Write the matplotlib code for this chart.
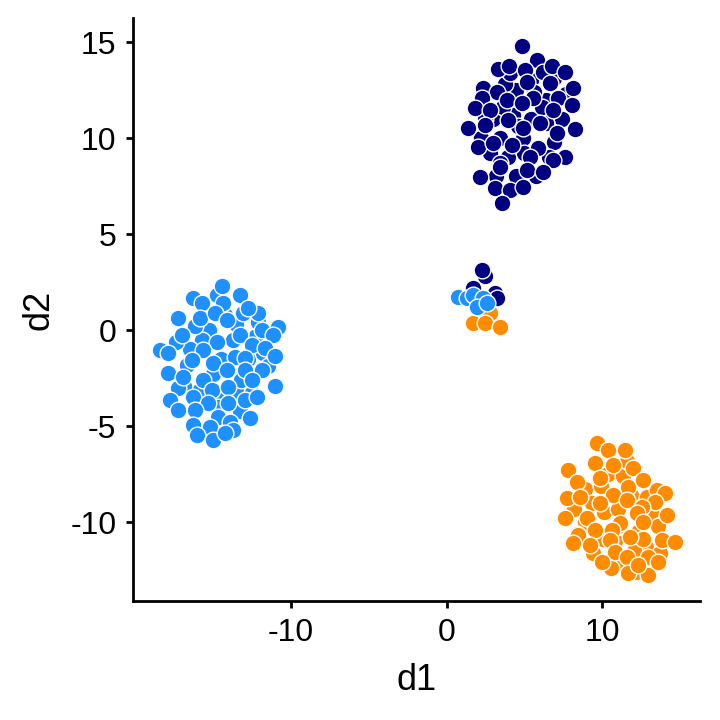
import matplotlib
matplotlib.use("Agg")
import matplotlib.pyplot as plt

plt.rcParams["font.family"] = ["Liberation Sans", "DejaVu Sans"]
plt.rcParams["axes.unicode_minus"] = False

# cluster coordinates (d1, d2)
navy_d1 = [2.95, 4.45, 5.43, 6.42, 3.95, 4.94, 5.92, 3.46, 7.40, 6.42,
           2.48, 4.45, 3.76, 5.73, 6.91, 3.17, 2.77, 5.43, 4.25, 6.12,
           3.60, 5.00, 6.60, 7.70, 2.20, 4.60, 5.60, 3.40, 6.90, 4.10,
           4.82, 5.79, 3.30, 4.00, 5.04, 6.19, 6.75, 7.61, 2.33, 3.22,
           5.15, 6.64, 8.13, 2.25, 1.82, 3.86, 5.55, 7.15, 8.04, 2.78,
           4.82, 6.84, 1.37, 2.46, 3.95, 4.91, 6.00, 7.07, 8.25, 2.02,
           2.98, 4.18, 5.87, 7.61, 6.84, 5.35, 3.42, 5.15, 6.19, 2.14,
           3.11, 4.07, 4.91, 3.54,
           2.46, 2.25, 1.71, 3.11, 3.22]
navy_d2 = [11.0, 12.5, 11.0, 12.0, 9.0, 10.0, 9.5, 10.0, 11.0, 10.8,
           11.0, 8.0, 12.8, 8.0, 9.8, 8.0, 9.2, 13.0, 11.2, 11.6,
           11.6, 9.2, 9.0, 12.3, 10.0, 10.6, 12.4, 8.7, 13.1, 13.4,
           14.79, 14.06, 13.59, 13.75, 13.54, 13.44, 13.75, 13.45, 12.60, 12.41,
           12.93, 12.86, 12.60, 12.08, 11.56, 11.98, 12.08, 12.08, 11.72, 11.46,
           11.82, 11.46, 10.52, 10.68, 10.94, 10.52, 10.78, 10.26, 10.47, 9.55,
           9.74, 9.64, 9.48, 9.03, 8.85, 9.03, 8.51, 8.33, 8.24, 7.98,
           7.40, 7.29, 7.46, 6.63,
           2.83, 3.13, 2.17, 1.91, 1.68]

orange_d1 = [8.87, 10.15, 11.04, 11.83, 9.37, 10.35, 11.33, 12.32, 10.84, 12.81,
             8.87, 13.11, 10.06, 12.02, 8.19, 11.24, 13.60,
             9.90, 12.90, 11.00, 8.40, 13.70, 10.60, 12.20, 9.40, 11.60, 12.60,
             9.64, 10.39, 11.46, 9.53, 10.71, 12.00, 7.82, 8.36, 9.86, 11.68,
             12.64, 13.51, 14.04, 7.71, 8.57, 10.71, 9.86, 11.58, 13.39, 12.54,
             7.61, 9.00, 11.15, 12.22, 12.64, 14.15, 9.53, 10.61, 11.79, 8.46,
             8.14, 9.22, 10.50, 13.82, 14.68, 10.82, 11.58, 12.97, 9.97, 11.68,
             12.97, 13.61, 12.32,
             2.78, 1.71, 2.46, 3.42]
orange_d2 = [-8.3, -9.5, -9.3, -8.6, -9.0, -7.5, -7.6, -10.5, -11.0, -11.3,
             -10.0, -9.5, -10.9, -11.5, -9.3, -12.2, -10.2,
             -8.1, -8.7, -10.2, -10.6, -11.6, -12.4, -12.6, -11.6, -6.8, -10.9,
             -5.90, -6.25, -6.25, -6.94, -7.03, -7.20, -7.29, -7.90, -7.72, -8.16,
             -7.81, -8.33, -8.51, -8.77, -8.68, -8.59, -9.03, -8.85, -8.94, -9.20,
             -9.81, -9.81, -10.07, -9.55, -9.98, -9.64, -10.42, -10.42, -10.77, -10.68,
             -11.11, -11.20, -10.94, -10.94, -11.03, -11.55, -11.81, -11.81, -12.07, -12.67,
             -12.76, -12.07, -12.24,
             0.87, 0.35, 0.35, 0.17]

blue_d1 = [-15.25, -13.76, -15.72, -12.77, -14.54, -15.53, -13.56, -14.54, -16.51, -12.28,
           -14.74, -13.56, -15.92, -13.27, -16.71, -11.79, -14.25,
           -17.40, -16.90, -12.50, -11.50, -15.00, -13.20, -16.20, -14.70, -17.30, -12.10,
           -14.43, -16.29, -13.29, -15.75, -14.37, -17.26, -15.86, -14.90, -14.15, -13.08,
           -12.11, -12.76, -10.83, -17.04, -14.79, -13.29, -11.90, -11.15, -18.44, -17.91,
           -15.65, -13.62, -12.54, -11.69, -11.04, -16.40, -15.00, -12.97, -17.91, -16.94,
           -14.15, -12.97, -11.90, -15.65, -15.11, -14.04, -12.54, -11.04, -17.79, -17.26,
           -16.29, -15.33, -14.04, -12.97, -12.22, -16.19, -14.69, -13.93, -12.65, -16.29,
           -15.22, -13.73, -16.08, -15.00, -14.26,
           0.75, 1.29, 1.71, 2.35, 1.93, 2.57]
blue_d2 = [0.0, -0.5, -0.5, -1.5, -1.5, -2.8, -3.2, -3.5, -1.0, -0.3,
           1.8, 0.3, -3.2, -4.2, -1.8, -1.2, 0.8,
           -0.6, -2.9, -3.3, -1.9, -2.3, -2.6, 0.2, -4.0, -3.0, 0.4,
           2.29, 1.65, 1.82, 1.39, 1.39, 0.61, 0.61, 0.87, 0.52, 0.87,
           0.87, 1.13, 0.17, -0.26, -0.61, -0.26, 0.0, -0.26, -1.04, -1.21,
           -1.04, -1.39, -0.78, -0.95, -1.35, -1.56, -1.73, -1.47, -2.26, -2.43,
           -2.08, -2.08, -2.08, -2.60, -3.13, -2.95, -2.60, -2.92, -3.65, -4.17,
           -3.47, -3.82, -3.82, -3.65, -3.47, -4.17, -4.52, -4.78, -4.60, -4.95,
           -5.04, -5.21, -5.47, -5.73, -5.38,
           1.73, 1.65, 1.82, 1.65, 1.21, 1.39]

fig = plt.figure(figsize=(7.2, 7.2), dpi=100)
ax = fig.add_axes([0.1847, 0.1646, 0.7875, 0.8104])

marker_kw = dict(s=145, edgecolors="white", linewidths=1.0)
ax.scatter(navy_d1, navy_d2, color="#000080", **marker_kw)
ax.scatter(orange_d1, orange_d2, color="#FF8C00", **marker_kw)
ax.scatter(blue_d1, blue_d2, color="#1E90FF", **marker_kw)

ax.set_xlim(-20.17, 16.29)
ax.set_ylim(-14.14, 16.25)
ax.set_xticks([-10, 0, 10])
ax.set_yticks([-10, -5, 0, 5, 10, 15])

ax.spines["top"].set_visible(False)
ax.spines["right"].set_visible(False)
for side in ("left", "bottom"):
    ax.spines[side].set_linewidth(2)
ax.tick_params(width=2, length=5, pad=7, labelsize=23, color="black")

ax.set_xlabel("d1", fontsize=26, labelpad=11)
ax.set_ylabel("d2", fontsize=26, labelpad=10)

fig.savefig("out.png", dpi=100)
